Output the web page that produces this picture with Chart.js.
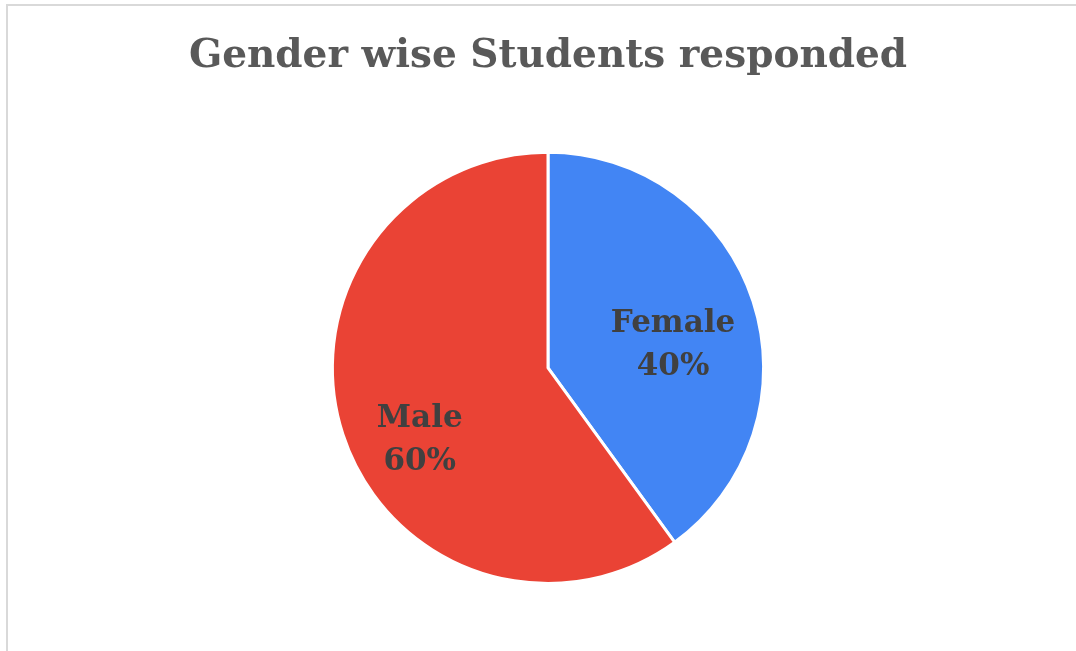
<!DOCTYPE html>
<html>
<head>
<meta charset="utf-8">
<script src="https://cdn.jsdelivr.net/npm/chart.js@4"></script>
<style>
  body { margin: 0; background: #fff; }
  #wrap { position: relative; width: 1076px; height: 651px; }
  #frame { position: absolute; left: 6px; top: 4px; right: 0; bottom: 0;
           border-top: 2px solid #d9d9d9; border-left: 2px solid #d9d9d9; pointer-events: none; }
  canvas { position: absolute; left: 0; top: 0; }
</style>
</head>
<body>
<div id="wrap">
  <canvas id="genderChart" width="1076" height="651"></canvas>
  <div id="frame"></div>
</div>
<script>
const categories = ["Female", "Male"];
const shares = [40, 60];
const sliceColors = ["#4285f4", "#ea4335"];

// label offsets (fraction of radius) roughly where Excel put them
const labelOffsets = [[0.58, -0.107], [-0.595, 0.335]];

const sliceLabels = {
    id: 'sliceLabels',
    afterDatasetsDraw(chart) {
        const ctx = chart.ctx;
        const meta = chart.getDatasetMeta(0);
        ctx.save();
        ctx.fillStyle = "#404040";
        ctx.textAlign = "center";
        ctx.textBaseline = "middle";
        ctx.font = "bold 31px 'DejaVu Serif'";
        meta.data.forEach(function (arc, i) {
            const p = arc.getProps(['x', 'y', 'outerRadius'], true);
            const x = p.x + labelOffsets[i][0] * p.outerRadius;
            const y = p.y + labelOffsets[i][1] * p.outerRadius;
            ctx.fillText(chart.data.labels[i], x, y - 21);
            ctx.fillText(chart.data.datasets[0].data[i] + "%", x, y + 22);
        });
        ctx.restore();
    }
};

new Chart(document.getElementById('genderChart'), {
    type: 'pie',
    data: {
        labels: categories,
        datasets: [{
            data: shares,
            backgroundColor: sliceColors,
            borderColor: "#ffffff",
            borderWidth: 3
        }]
    },
    options: {
        responsive: false,
        animation: false,
        devicePixelRatio: 1,
        layout: { padding: { left: 20, right: 0, top: 0, bottom: 66 } },
        plugins: {
            legend: { display: false },
            tooltip: { enabled: false },
            title: {
                display: true,
                text: "Gender wise Students responded",
                color: "#595959",
                font: { family: "'DejaVu Serif'", size: 39, weight: 'bold', lineHeight: 1.2 },
                padding: { top: 33, bottom: 71 }
            }
        }
    },
    plugins: [sliceLabels]
});
</script>
</body>
</html>
